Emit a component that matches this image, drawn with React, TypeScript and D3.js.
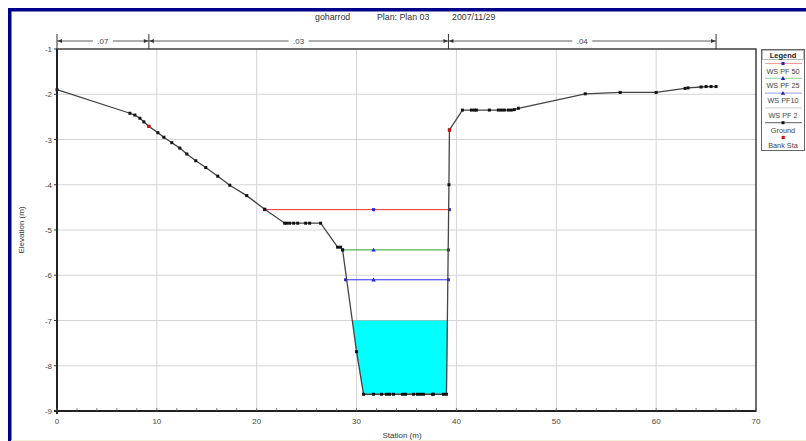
import React from "react";
import * as d3 from "d3";

const W = 806;
const H = 441;
const margin = { left: 57, right: 50, top: 49, bottom: 30 }; // plot frame
const font = "'Liberation Sans', Arial, sans-serif";

// ground profile (station m, elevation m)
const groundSta = [
  0, 7.3, 7.8, 8.3, 8.7, 9.2, 10.1, 10.7, 11.5, 12.3, 13.0, 13.9, 14.9, 16.1,
  17.3, 19.0, 20.8, 22.8, 23.0, 23.3, 23.7, 24.1, 24.9, 25.3, 26.4, 28.1, 28.4,
  28.6, 30.0, 30.7, 31.7, 32.5, 33.0, 33.3, 33.7, 34.6, 34.9, 35.7, 36.1, 36.4,
  36.7, 37.6, 37.7, 38.7, 39.0, 39.05, 39.25, 39.3, 40.6, 41.5, 41.8, 42.0,
  43.3, 44.2, 44.5, 44.8, 45.2, 45.5, 45.8, 46.2, 52.9, 56.4, 60.0, 62.9, 63.2,
  64.5, 65.0, 65.5, 66.0,
];
const groundElev = [
  -1.9, -2.42, -2.46, -2.53, -2.61, -2.71, -2.85, -2.95, -3.07, -3.19, -3.32,
  -3.47, -3.62, -3.81, -4.01, -4.24, -4.54, -4.85, -4.85, -4.85, -4.85, -4.85,
  -4.85, -4.85, -4.85, -5.38, -5.38, -5.44, -7.69, -8.63, -8.63, -8.63, -8.63,
  -8.63, -8.63, -8.63, -8.63, -8.63, -8.63, -8.63, -8.63, -8.63, -8.63, -8.63,
  -8.63, -7.8, -4.0, -2.79, -2.35, -2.35, -2.35, -2.35, -2.35, -2.35, -2.35,
  -2.35, -2.35, -2.35, -2.34, -2.31, -1.99, -1.96, -1.96, -1.87, -1.86, -1.84,
  -1.83, -1.83, -1.83,
];
const groundMarked = groundSta.map((s) => s !== 39.05);

// water surfaces
const wsNames = ["WS PF 50", "WS PF 25", "WS PF10", "WS PF 2"];
const wsElev = [-4.55, -5.44, -6.1, -7.0];
const wsLeft = [20.8, 28.6, 28.9, 29.6];
const wsRight = [39.3, 39.2, 39.2, 39.1];
const wsMid = [31.7, 31.7, 31.7, null];
const wsColors = ["#f03030", "#2aa02a", "#3030ff", "#999999"];
const wsMarker = ["square", "triangle", "triangle", "none"];

// bank stations
const bankSta = [9.2, 39.3];
const bankElev = [-2.71, -2.79];

// Manning's n segments
const nBreaks = [0, 9.2, 39.2, 66];
const nValues = [".07", ".03", ".04"];

const titleParts = ["goharrod", "Plan: Plan 03", "2007/11/29"];
const xTicks = [0, 10, 20, 30, 40, 50, 60, 70];
const yTicks = [-1, -2, -3, -4, -5, -6, -7, -8, -9];
const xMinor = d3.range(0, 71, 2);

const legendLabels = [...wsNames, "Ground", "Bank Sta"];

const x = d3.scaleLinear().domain([0, 70]).range([margin.left, W - margin.right]);
const y = d3.scaleLinear().domain([-9, -1]).range([H - margin.bottom, margin.top]);

const Marker = ({ cx, cy, kind, color }: { cx: number; cy: number; kind: string; color: string }) => {
  if (kind === "triangle")
    return <path d={`M${cx},${cy - 2.2}L${cx + 2.2},${cy + 1.6}L${cx - 2.2},${cy + 1.6}Z`} fill={color} />;
  if (kind === "square") return <rect x={cx - 1.5} y={cy - 1.5} width={3} height={3} fill={color} />;
  return null;
};

const App = () => {
  const ground = groundSta.map((s, i) => [s, groundElev[i]] as [number, number]);
  const line = d3
    .line<[number, number]>()
    .x((d) => x(d[0]))
    .y((d) => y(d[1]));

  // PF 2 filled area: water surface edge + ground points under it
  const i2 = 3;
  const under = ground.filter(
    (d) => d[0] > wsLeft[i2] && d[0] < wsRight[i2] && d[1] < wsElev[i2]
  );
  const fillPts: [number, number][] = [
    [wsLeft[i2], wsElev[i2]],
    ...under,
    [wsRight[i2], wsElev[i2]],
  ];

  const plotL = x(0);
  const plotR = x(70);
  const plotT = y(-1);
  const plotB = y(-9);
  const nY = 41;
  const titleX = [315, 377, 452];

  return (
    <svg width={W} height={H} style={{ position: "absolute", left: 0, top: 0, background: "#fff" }}>
      {/* outer frame */}
      <rect x={8} y={8} width={W - 8} height={3.5} fill="#00008b" />
      <rect x={8} y={8} width={3.5} height={H - 8} fill="#00008b" />
      <line x1={11} x2={W} y1={H - 0.5} y2={H - 0.5} stroke="#f3f0d8" />

      {titleParts.map((t, i) => (
        <text key={t} x={titleX[i]} y={20} fontFamily={font} fontSize={8.8} fill="#333">
          {t}
        </text>
      ))}

      {/* grid */}
      {xTicks.slice(1, -1).map((t) => (
        <line key={"gx" + t} x1={x(t)} x2={x(t)} y1={plotT} y2={plotB} stroke="#d4d4d4" />
      ))}
      {yTicks.slice(1, -1).map((t) => (
        <line key={"gy" + t} x1={plotL} x2={plotR} y1={y(t)} y2={y(t)} stroke="#d4d4d4" />
      ))}

      {/* PF 2 fill */}
      <path d={line(fillPts) + "Z"} fill="#00ffff" stroke="#88aaaa" strokeWidth={0.5} />

      {/* water surfaces */}
      {wsElev.slice(0, 3).map((e, i) => (
        <g key={"ws" + i}>
          <line x1={x(wsLeft[i])} x2={x(wsRight[i])} y1={y(e)} y2={y(e)} stroke={wsColors[i]} strokeWidth={1} />
          {[wsLeft[i], wsMid[i], wsRight[i]].map((s, j) =>
            s === null ? null : (
              <Marker key={j} cx={x(s)} cy={y(e)} kind={j === 1 ? wsMarker[i] : "square"} color="#2020e0" />
            )
          )}
        </g>
      ))}

      {/* ground */}
      <path d={line(ground) || ""} fill="none" stroke="#444" strokeWidth={1.3} />
      {ground.map((d, i) =>
        groundMarked[i] ? (
          <rect key={"g" + i} x={x(d[0]) - 1.5} y={y(d[1]) - 1.5} width={3} height={3} fill="#111" />
        ) : null
      )}
      {bankSta.map((s, i) => (
        <rect key={"b" + i} x={x(s) - 1.6} y={y(bankElev[i]) - 1.6} width={3.2} height={3.2} fill="#e01010" />
      ))}

      {/* plot frame */}
      <rect x={plotL} y={plotT} width={plotR - plotL} height={plotB - plotT} fill="none" stroke="#222" strokeWidth={1.3} />
      <line x1={plotL} x2={plotL} y1={plotT} y2={plotB + 3} stroke="#222" strokeWidth={2} />
      <line x1={plotL - 3} x2={plotR} y1={plotB} y2={plotB} stroke="#222" strokeWidth={2} />

      {/* x axis */}
      {xMinor.map((t) => (
        <line key={"mx" + t} x1={x(t)} x2={x(t)} y1={plotB} y2={plotB - 3} stroke="#555" strokeWidth={0.8} />
      ))}
      {xTicks.map((t) => (
        <text key={"tx" + t} x={x(t)} y={424} fontFamily={font} fontSize={8} fill="#444" textAnchor="middle">
          {t}
        </text>
      ))}
      <text x={402} y={438} fontFamily={font} fontSize={8} fill="#333" textAnchor="middle">
        Station (m)
      </text>

      {/* y axis */}
      {yTicks.map((t) => (
        <g key={"ty" + t}>
          <line x1={plotL - 3} x2={plotL} y1={y(t)} y2={y(t)} stroke="#333" />
          <text x={plotL - 5} y={y(t) + 3} fontFamily={font} fontSize={8} fill="#444" textAnchor="end">
            {t}
          </text>
        </g>
      ))}
      <text
        transform={`translate(24,${(plotT + plotB) / 2}) rotate(-90)`}
        fontFamily={font}
        fontSize={8}
        fill="#333"
        textAnchor="middle"
      >
        Elevation (m)
      </text>

      {/* Manning's n bar */}
      {nBreaks.map((b) => (
        <line key={"nb" + b} x1={x(b)} x2={x(b)} y1={nY - 7} y2={plotT} stroke="#333" strokeWidth={1} />
      ))}
      {nValues.map((v, i) => {
        const a = x(nBreaks[i]);
        const b = x(nBreaks[i + 1]);
        const m = (a + b) / 2;
        return (
          <g key={"n" + i}>
            <line x1={a} x2={m - 10} y1={nY} y2={nY} stroke="#333" strokeWidth={0.8} />
            <line x1={m + 10} x2={b} y1={nY} y2={nY} stroke="#333" strokeWidth={0.8} />
            <path d={`M${a + 0.5},${nY}L${a + 5},${nY - 2}L${a + 5},${nY + 2}Z`} fill="#333" />
            <path d={`M${b - 0.5},${nY}L${b - 5},${nY - 2}L${b - 5},${nY + 2}Z`} fill="#333" />
            <text x={m} y={nY + 3} fontFamily={font} fontSize={8} fill="#444" textAnchor="middle">
              {v}
            </text>
          </g>
        );
      })}

      {/* legend */}
      <g>
        <rect x={761.5} y={49.5} width={43} height={101} fill="#fff" stroke="#666" />
        <rect x={762.5} y={50.5} width={41} height={9} fill="#fff" stroke="#888" strokeWidth={0.6} />
        <text x={783} y={58} fontFamily={font} fontSize={7.5} fontWeight="bold" fill="#222" textAnchor="middle">
          Legend
        </text>
        {legendLabels.map((lab, i) => {
          const ly = 63.5 + i * 14.8;
          const isWs = i < 4;
          return (
            <g key={"lg" + i}>
              {i < 5 && (
                <line
                  x1={765}
                  x2={802}
                  y1={ly}
                  y2={ly}
                  stroke={isWs ? wsColors[i] : "#333"}
                  strokeWidth={0.8}
                  opacity={isWs ? 0.6 : 1}
                />
              )}
              {i < 3 && <Marker cx={783} cy={ly} kind={i === 0 ? "square" : "triangle"} color="#2020e0" />}
              {i === 4 && <rect x={781.5} y={ly - 1.5} width={3} height={3} fill="#111" />}
              {i === 5 && <rect x={781.6} y={ly - 1.6} width={3.2} height={3.2} fill="#e01010" />}
              <text x={783} y={ly + 10} fontFamily={font} fontSize={7.3} fill="#444" textAnchor="middle">
                {lab}
              </text>
            </g>
          );
        })}
      </g>
    </svg>
  );
};

export default App;
